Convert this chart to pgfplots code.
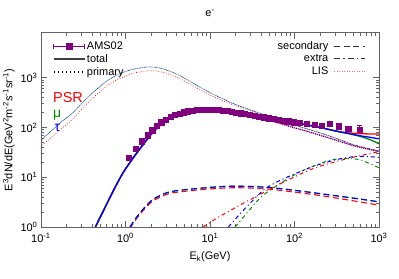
\documentclass[border=0pt]{standalone}
\usepackage{pgfplots}
\pgfplotsset{compat=1.18}
\usepackage{fontspec}
\setmainfont{Liberation Sans}
\setsansfont{Liberation Sans}
\definecolor{amsp}{RGB}{128,0,128}
\definecolor{lred}{RGB}{255,0,0}
\definecolor{lgreen}{RGB}{0,140,0}
\definecolor{lblue}{RGB}{0,0,255}
\definecolor{lpink}{RGB}{230,110,150}
\definecolor{axgray}{RGB}{100,100,100}
\newcommand{\fs}{\fontsize{11}{12}\selectfont}
\pgfplotsset{
  tot/.style={line width=1.3pt, smooth},
  sec/.style={line width=1.1pt, dash pattern=on 6bp off 3.5bp, smooth},
  ext/.style={line width=1.0pt, dash pattern=on 4bp off 3bp on 1bp off 3bp, smooth},
  pri/.style={line width=1.3pt, dash pattern=on 1.3bp off 2.7bp, smooth},
  lis/.style={line width=0.7pt, dash pattern=on 0.7bp off 1.8bp, smooth},
  amsleg/.style={legend image code/.code={%
    \draw[amsp, line width=0.8pt] (0bp,0bp) -- (31bp,0bp) (0bp,-2.5bp) -- (0bp,2.5bp) (31bp,-2.5bp) -- (31bp,2.5bp);
    \fill[amsp] (12.8bp,-2.6bp) rectangle (18.2bp,2.6bp);}},
}
\begin{document}
\begin{tikzpicture}
\useasboundingbox (0,0) rectangle (399bp,279bp);
\begin{axis}[
  at={(41bp,52bp)}, anchor=south west,
  scale only axis, width=338bp, height=194bp,
  xmode=log, ymode=log,
  xmin=0.1, xmax=1000, ymin=1, ymax=7900,
  axis line style={axgray, line width=1pt},
  every tick/.style={axgray, line width=0.6pt},
  tick align=inside,
  major tick length=6bp, minor tick length=3.5bp,
  xtick={0.1,1,10,100,1000},
  xticklabels={10\textsuperscript{-1},10\textsuperscript{0},10\textsuperscript{1},10\textsuperscript{2},10\textsuperscript{3}},
  ytick={1,10,100,1000},
  yticklabels={10\textsuperscript{0},10\textsuperscript{1},10\textsuperscript{2},10\textsuperscript{3}},
  tick label style={font=\fs},
  xticklabel style={yshift=-3bp},
  yticklabel style={xshift=0bp},
  xlabel={E\textsubscript{k}(GeV)},
  xlabel style={font=\fs, yshift=-2bp},
  ylabel={E\textsuperscript{3}dN/dE(GeV\textsuperscript{2}m\textsuperscript{-2}s\textsuperscript{-1}sr\textsuperscript{-1})},
  ylabel style={font=\fs, yshift=-1bp},
  title={e\textsuperscript{-}},
  title style={font=\fs, at={(0.5,1)}, anchor=south, yshift=7bp},
  clip=true,
]
% LIS
\addplot[lis, lred] coordinates {(0.1,40)(0.11,48)(0.17,90)(0.24,150)(0.35,300)(0.6,680)(0.9,1000)(1.24,1230)(1.95,1380)(2.8,1280)(4.4,950)(7,620)(10,450)(14,350)(20,275)(40,185)(68,136)(100,111)(200,78)(316,60)(500,45)(780,37)(1000,34)};
\addplot[lis, lgreen] coordinates {(0.1,55)(0.11,64)(0.17,125)(0.24,200)(0.35,390)(0.6,860)(0.9,1240)(1.24,1480)(1.95,1650)(2.8,1500)(4.4,1100)(7,700)(10,500)(14,380)(20,290)(40,190)(68,138)(100,112)(200,78)(316,60)(500,45)(780,37)(1000,34)};
\addplot[lis, lblue, dash phase=1.2bp] coordinates {(0.1,55)(0.11,64)(0.17,125)(0.24,200)(0.35,390)(0.6,860)(0.9,1240)(1.24,1480)(1.95,1650)(2.8,1500)(4.4,1100)(7,700)(10,500)(14,380)(20,290)(40,190)(68,138)(100,112)(200,78)(316,60)(500,45)(780,37)(1000,34)};
% secondary
\addplot[sec, lred] coordinates {(1.13,0.93)(1.4,1.6)(1.95,3.0)(2.5,3.9)(3.37,4.75)(5,5.2)(7.6,5.6)(12,5.95)(20,6.15)(40,5.95)(68,5.45)(150,4.6)(263,4.0)(500,3.35)(1000,2.75)};
\addplot[sec, lgreen] coordinates {(1.13,1)(1.4,1.7)(1.95,3.2)(2.5,4.2)(3.37,5.1)(5,5.6)(7.6,6.0)(12,6.4)(20,6.6)(40,6.4)(68,5.9)(150,5.0)(263,4.4)(500,3.8)(1000,3.2)};
\addplot[sec, lblue] coordinates {(1.13,1)(1.4,1.7)(1.95,3.2)(2.5,4.2)(3.37,5.1)(5,5.6)(7.6,6.0)(12,6.4)(20,6.6)(40,6.4)(68,5.9)(150,5.0)(263,4.4)(500,3.8)(1000,3.2)};
% extra
\addplot[ext, lred] coordinates {(8.3,1)(12,1.5)(22.6,2.75)(40,4.6)(68,7.4)(166,14.9)(415,23.5)(940,32)(1000,33)};
\addplot[ext, lgreen] coordinates {(19.8,1)(28,2.0)(43,4.4)(106,11.8)(263,21.9)(497,23.5)(700,20.2)(1000,15.5)};
\addplot[ext, lblue] coordinates {(16.5,1)(25,2.2)(43,5.5)(68,8.7)(166,16.4)(348,23.5)(600,26.3)(1000,25)};
% primary
\addplot[pri, lred] coordinates {(0.44,1)(0.5,1.55)(0.6,2.9)(0.75,6.1)(0.94,12.2)(1.2,22.5)(1.49,37)(1.86,60)(2.2,84)(2.56,108)(3,133)(3.68,162)(4.5,185)(5.8,202)(7.6,212)(10,216)(13,213)(17,202)(22.6,183)(30,165)(40,150)(51,137)(68,120)(89,104)(127,88)(200,70)(316,55)(500,43)(780,36)(1000,33)};
\addplot[pri, lblue, dash phase=2bp] coordinates {(0.44,1)(0.5,1.55)(0.6,2.9)(0.75,6.1)(0.94,12.2)(1.2,22.5)(1.49,37)(1.86,60)(2.2,84)(2.56,108)(3,133)(3.68,162)(4.5,185)(5.8,202)(7.6,212)(10,216)(13,213)(17,202)(22.6,183)(30,165)(40,150)(51,137)(68,120)(89,104)(127,88)(200,70)(316,55)(500,43)(780,36)(1000,33)};
% data
\addplot[amsp, only marks, mark=square*, mark size=2.6bp,
  error bars/.cd, y dir=both, y explicit, error bar style={amsp, line width=0.8pt}, error mark options={rotate=90, mark size=2.6bp, amsp}]
  table[x=E, y=F, y error plus=ep, y error minus=em] {
E F ep em
1.1 25 1 1
1.31 37.5 1 1
1.57 53 1 1
1.83 70 1 1
2.07 88 2 2
2.35 108 2 2
2.65 127 2 2
3.0 145 2 2
3.4 162 2 2
3.85 178 2 2
4.35 192 2 2
4.9 203 2 2
5.5 212 2 2
6.2 219 2 2
7.0 225 2 2
7.9 229 2 2
8.9 231 2 2
10.0 231 2 2
11.3 229 2 2
12.7 226 2 2
14.3 221 2 2
16.1 214 2 2
18.1 207 2 2
20.4 200 2 2
23.0 193 2 2
26.0 186 2 2
29.5 179 2 2
33.5 172 2 2
38 166 2 2
43 160 2 2
49 154 2 2
56 148 2 2
64 143 2 2
73 138 2 2
84 133 2 2
97 128 2 2
116 124 3 3
139 119 3 3
175 115 3 3
210 110 4 4
263 118 5 5
331 106 6 6
433 94 9 9
585 91 19 16
};
% total
\addplot[tot, lred] coordinates {(0.44,1)(0.5,1.55)(0.6,2.9)(0.75,6.2)(0.94,12.5)(1.2,23)(1.49,38)(1.86,62)(2.2,87)(2.56,112)(3,138)(3.68,168)(4.5,191)(5.8,209)(7.6,219)(10,223)(13,221)(17,210)(22.6,193)(30,177)(40,163)(51,150)(68,137)(100,124)(127,116)(200,100)(316,84)(400,79)(600,75)(800,74)(1000,74)};
\addplot[tot, lgreen] coordinates {(0.44,1)(0.5,1.55)(0.6,2.9)(0.75,6.2)(0.94,12.5)(1.2,23)(1.49,38)(1.86,62)(2.2,87)(2.56,112)(3,138)(3.68,168)(4.5,191)(5.8,209)(7.6,219)(10,223)(13,221)(17,210)(22.6,193)(30,177)(40,163)(51,150)(68,137)(100,124)(127,116)(200,100)(316,84)(450,74)(600,66)(800,56)(1000,47)};
\addplot[tot, lblue] coordinates {(0.44,1)(0.5,1.55)(0.6,2.9)(0.75,6.2)(0.94,12.5)(1.2,23)(1.49,38)(1.86,62)(2.2,87)(2.56,112)(3,138)(3.68,168)(4.5,191)(5.8,209)(7.6,219)(10,223)(13,221)(17,210)(22.6,193)(30,177)(40,163)(51,150)(68,137)(100,124)(127,116)(200,100)(316,84)(450,75)(600,68)(800,63)(1000,59)};
% labels
\node[lred, font=\fontsize{14.5}{15}\selectfont, anchor=base west, inner sep=0pt] at (rel axis cs:0.0355,0.644) {PSR};
\node[lgreen, font=\fontsize{14}{15}\selectfont, anchor=base west, inner sep=0pt] at (rel axis cs:0.035,0.567) {μ};
\node[lblue, font=\fontsize{14}{15}\selectfont, anchor=base west, inner sep=0pt] at (rel axis cs:0.04,0.49) {τ};
\end{axis}
% left legend
\begin{axis}[
  at={(41bp,52bp)}, anchor=south west,
  scale only axis, width=338bp, height=194bp,
  hide axis, xmin=0, xmax=1, ymin=0, ymax=1,
  legend style={at={(12bp,187bp)}, anchor=north west, draw=none, fill=none,
    font=\fs, row sep=0.5bp, inner sep=0pt, nodes={inner sep=1.5bp},
    /tikz/every even column/.append style={column sep=4bp}},
  legend cell align=left,
  legend image code/.code={\draw[#1] (0bp,0bp) -- (31bp,0bp);},
]
\addlegendimage{amsleg}
\addlegendentry{AMS02}
\addlegendimage{black!75, line width=1.3pt}
\addlegendentry{total}
\addlegendimage{black, line width=1.1pt, dash pattern=on 1.3bp off 2.7bp}
\addlegendentry{primary}
\end{axis}
% right legend
\begin{axis}[
  at={(41bp,52bp)}, anchor=south west,
  scale only axis, width=338bp, height=194bp,
  hide axis, xmin=0, xmax=1, ymin=0, ymax=1,
  legend style={at={(325bp,187bp)}, anchor=north east, draw=none, fill=none,
    font=\fs, row sep=0.5bp, inner sep=0pt, nodes={inner sep=1.5bp},
    /tikz/every odd column/.append style={column sep=4bp}},
  legend plot pos=right,
  legend cell align=right,
  legend image code/.code={\draw[#1] (0bp,0bp) -- (31bp,0bp);},
]
\addlegendimage{black!80, line width=1.0pt, dash pattern=on 6bp off 3.5bp}
\addlegendentry{secondary}
\addlegendimage{black!80, line width=1.0pt, dash pattern=on 6bp off 3bp on 1.5bp off 3bp}
\addlegendentry{extra}
\addlegendimage{lpink, line width=0.7pt, dash pattern=on 0.7bp off 1.8bp}
\addlegendentry{LIS}
\end{axis}
\end{tikzpicture}
\end{document}
